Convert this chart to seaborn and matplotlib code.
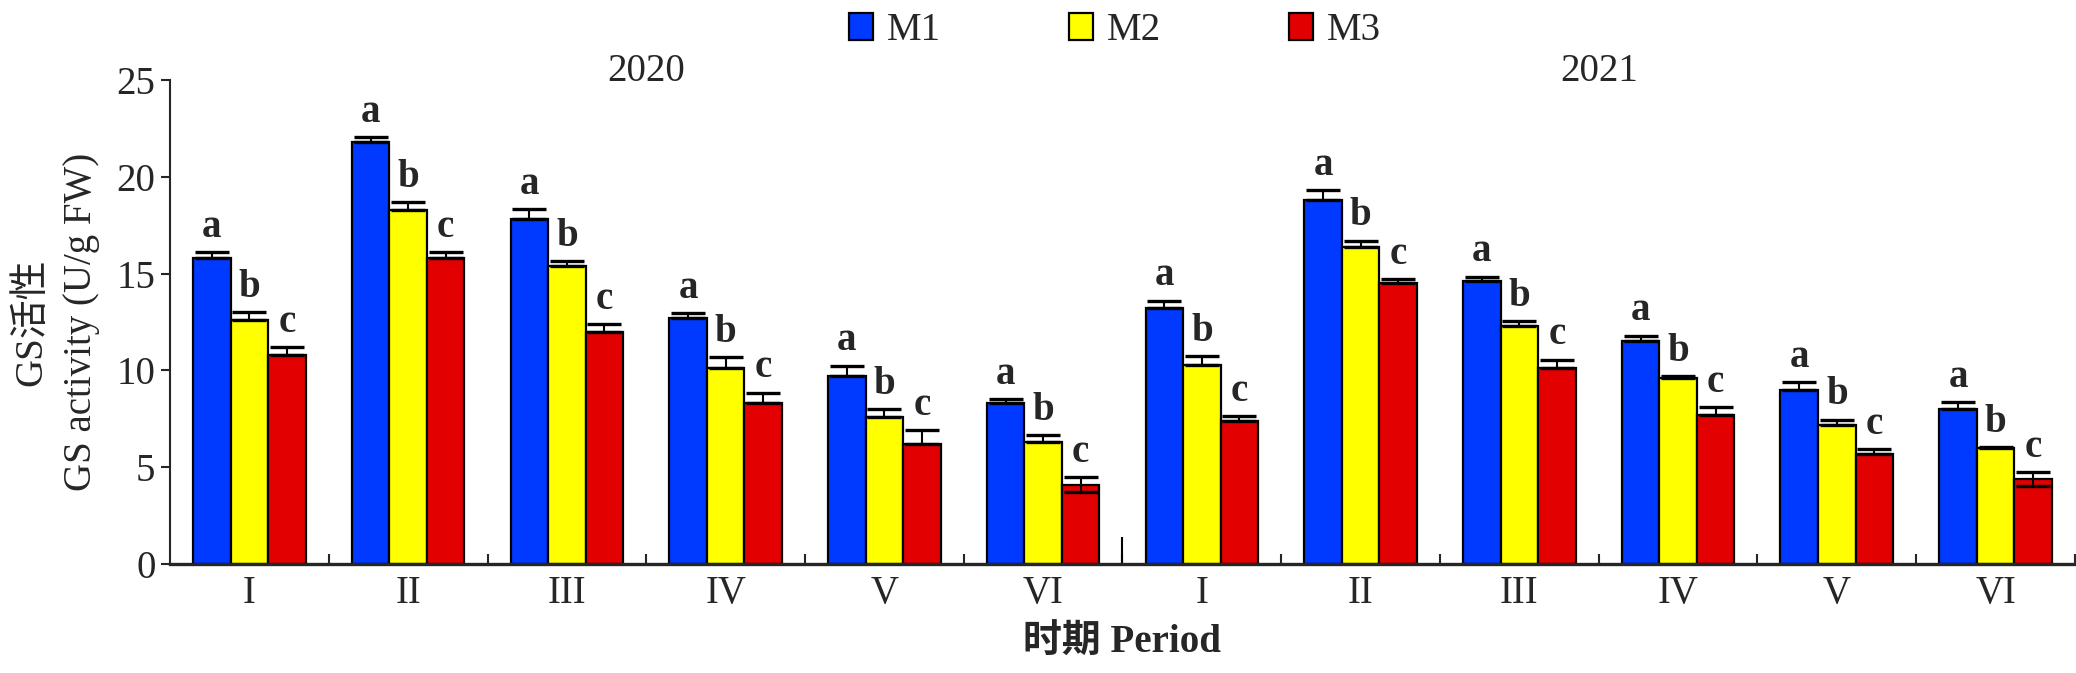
import numpy as np
import pandas as pd
import matplotlib
matplotlib.use("Agg")
import matplotlib.pyplot as plt
import matplotlib.transforms as mtransforms
import seaborn as sns

# values
years = ["2020", "2021"]
periods = ["I", "II", "III", "IV", "V", "VI"]
treatments = ["M1", "M2", "M3"]

m1 = [15.8, 21.8, 17.8, 12.7, 9.7, 8.3, 13.2, 18.8, 14.6, 11.5, 9.0, 8.0]
m2 = [12.6, 18.3, 15.4, 10.1, 7.6, 6.3, 10.3, 16.4, 12.3, 9.6, 7.2, 6.0]
m3 = [10.8, 15.8, 12.0, 8.3, 6.2, 4.1, 7.4, 14.5, 10.1, 7.7, 5.7, 4.4]

err_m1 = [0.3, 0.25, 0.55, 0.25, 0.55, 0.2, 0.4, 0.5, 0.25, 0.3, 0.4, 0.35]
err_m2 = [0.4, 0.4, 0.25, 0.6, 0.4, 0.35, 0.45, 0.3, 0.25, 0.1, 0.25, 0.05]
err_m3 = [0.4, 0.3, 0.4, 0.55, 0.7, 0.4, 0.25, 0.2, 0.45, 0.4, 0.25, 0.35]
# lower half of the error bar is only visible on a couple of bars
low_m1 = [0] * 12
low_m2 = [0] * 12
low_m3 = [0, 0, 0, 0, 0, 0.4, 0, 0, 0, 0, 0, 0.35]

letters = ["a", "b", "c"]
colors = ["#0039FF", "#FFFF00", "#E30000"]


def main():
    sns.set_style("ticks")
    plt.rcParams["font.family"] = ["Liberation Serif", "Noto Sans CJK SC"]
    plt.rcParams["font.size"] = 28

    slots = [f"{y}-{p}" for y in years for p in periods]
    rows = []
    for t, vals in zip(treatments, [m1, m2, m3]):
        for s, v in zip(slots, vals):
            rows.append({"slot": s, "treatment": t, "value": v})
    df = pd.DataFrame(rows)

    fig = plt.figure(figsize=(20.76, 6.73), dpi=100)
    ax = fig.add_axes([0.0819, 0.162, 0.9176, 0.719])

    sns.barplot(
        data=df, x="slot", y="value", hue="treatment",
        order=slots, hue_order=treatments, palette=colors,
        width=0.71, edgecolor="black", linewidth=1.6,
        errorbar=None, legend=False, saturation=1, ax=ax,
    )
    bars = list(ax.containers)

    errs = [err_m1, err_m2, err_m3]
    lows = [low_m1, low_m2, low_m3]
    for i, cont in enumerate(bars):
        xs = [p.get_x() + p.get_width() / 2 for p in cont.patches]
        hs = [p.get_height() for p in cont.patches]
        ax.errorbar(xs, hs, yerr=[lows[i], errs[i]], fmt="none",
                    ecolor="black", elinewidth=1.5, capsize=12,
                    capthick=2.4, zorder=5)
        for x, h, e in zip(xs, hs, errs[i]):
            ax.annotate(letters[i], (x, h + e), xytext=(0, 11),
                        textcoords="offset points", ha="center",
                        va="baseline", fontsize=28, fontweight="bold")

    ax.set_xlim(-0.5, len(slots) - 0.5)
    ax.set_ylim(0, 25)
    ax.set_yticks([0, 5, 10, 15, 20, 25])
    ax.set_xticks(range(len(slots)))
    ax.set_xticklabels(periods * len(years))
    ax.set_xticks(np.arange(0.5, len(slots), 1), minor=True)
    ax.tick_params(axis="x", which="major", length=0, pad=8, labelsize=28)
    ax.tick_params(axis="x", which="minor", direction="in", length=7,
                   width=1.5)
    ax.tick_params(axis="y", direction="out", length=6.5, width=1.5,
                   labelsize=28, pad=4)
    # taller separator between the two years
    ax.vlines(len(periods) - 0.5, 0, 1.4, color="black", lw=1.5)

    sns.despine(ax=ax)
    ax.spines["left"].set_linewidth(1.5)
    ax.spines["bottom"].set_linewidth(2.4)

    ax.set_xlabel("时期 Period", fontweight="bold", labelpad=9)
    ax.set_ylabel("GS活性\nGS activity (U/g FW)", linespacing=1.45)
    ax.yaxis.set_label_coords(-0.037, 0.5)

    trans = mtransforms.blended_transform_factory(ax.transData, ax.transAxes)
    for k, y in enumerate(years):
        xc = np.mean(range(k * len(periods), (k + 1) * len(periods)))
        ax.text(xc, 1.017, y, transform=trans, ha="center", va="center",
                fontsize=28)

    ax.legend(bars, treatments, loc="center",
              bbox_to_anchor=(0.537, 0.955), bbox_transform=fig.transFigure,
              ncol=3, frameon=False, handlelength=0.62, handleheight=0.68,
              handletextpad=0.35, columnspacing=3.3, fontsize=28)

    fig.savefig("out.png", dpi=100)


if __name__ == "__main__":
    main()
